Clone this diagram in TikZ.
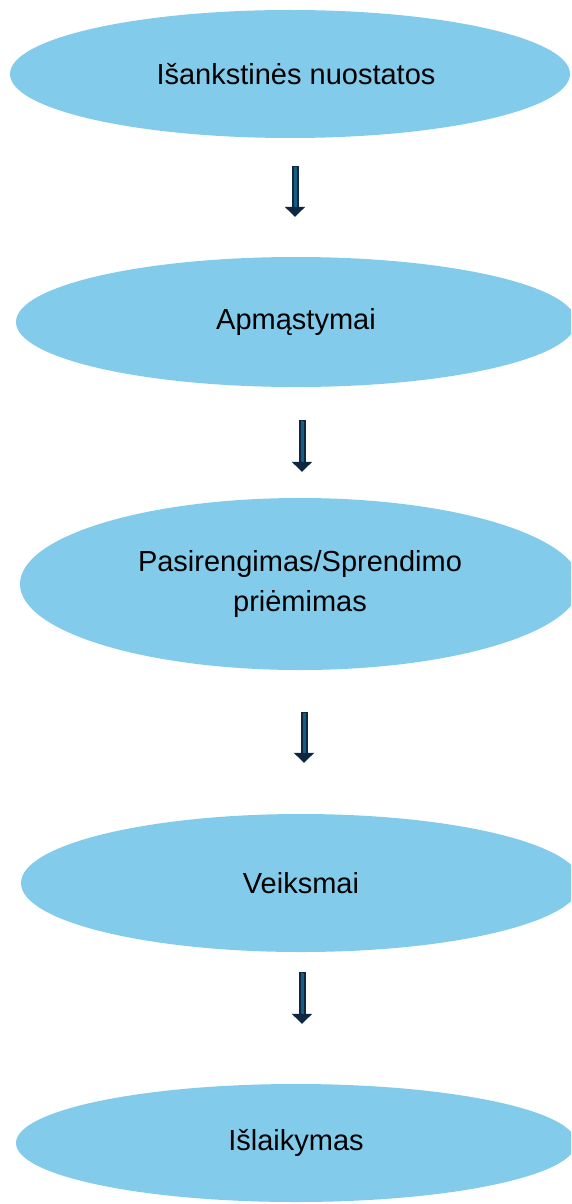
\documentclass[tikz,border=0pt]{standalone}
\usepackage{fontspec}
\setmainfont{Liberation Sans}
\usetikzlibrary{shapes.geometric}
\usetikzlibrary{arrows.meta}
\usetikzlibrary{calc}

\definecolor{stagefill}{RGB}{131,203,235}
\definecolor{arrowline}{RGB}{14,40,65}
\definecolor{arrowfill}{RGB}{21,96,130}

\tikzset{
  stage/.style={ellipse, fill=stagefill, inner sep=0pt, align=center,
    minimum width=560pt, font=\fontsize{29}{40}\selectfont},
  blockarrow/.style={draw=arrowline, line width=7pt,
    -{Triangle[length=10pt,width=20pt]},
    postaction={draw=arrowfill, line width=3pt, -, shorten <=1pt, shorten >=10pt}},
}

\begin{document}
\begin{tikzpicture}[x=1pt,y=-1pt]
    \useasboundingbox (0,0) rectangle (571,1204);
    \clip (0,0) rectangle (571,1204);

    % Define nodes
    \node[stage, minimum height=128pt] (nuostatos) at (290,74)  {\hspace*{12pt}Išankstinės nuostatos};
    \node[stage, minimum height=130pt] (apmastymai) at (296,322) {Apmąstymai};
    \node[stage, minimum height=172pt] (sprendimas) at (300,584) {Pasirengimas/Sprendimo\\priėmimas};
    \node[stage, minimum height=138pt] (veiksmai)   at (301,883) {Veiksmai};
    \node[stage, minimum height=118pt] (islaikymas) at (296,1143) {Išlaikymas};

    % Connect the nodes
    \draw[blockarrow] ($(nuostatos.south)+(5,28)$) -- ($(nuostatos.south |- apmastymai.north)+(5,-40)$); %
    \draw[blockarrow] ($(apmastymai.south)+(6,33)$) -- ($(apmastymai.south |- sprendimas.north)+(6,-26)$); %
    \draw[blockarrow] ($(sprendimas.south)+(4,42)$) -- ($(sprendimas.south |- veiksmai.north)+(4,-51)$); %
    \draw[blockarrow] ($(veiksmai.south)+(1,20)$) -- ($(veiksmai.south |- islaikymas.north)+(1,-60)$); %
\end{tikzpicture}
\end{document}
